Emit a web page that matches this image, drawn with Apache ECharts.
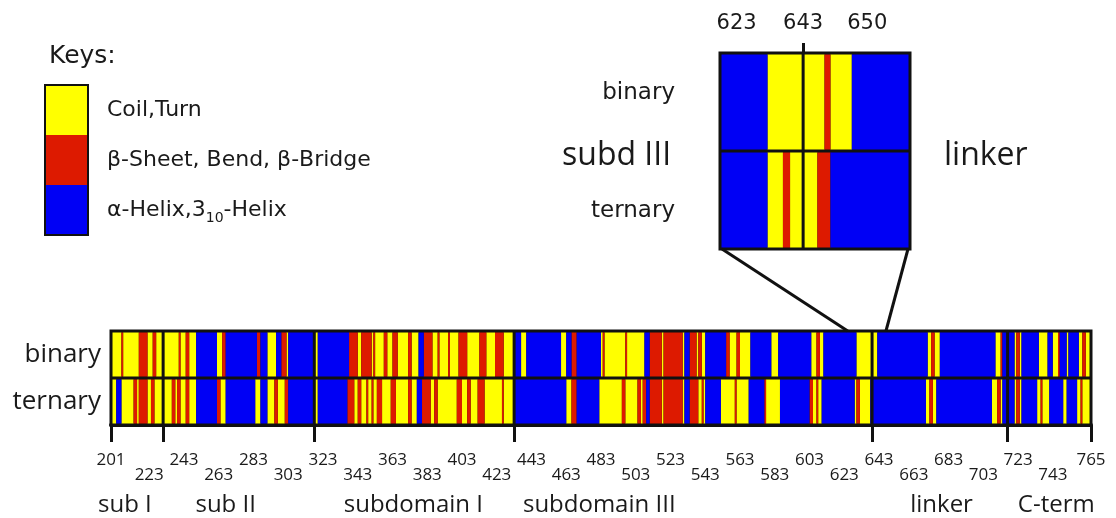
<!DOCTYPE html>
<html>
<head>
<meta charset="utf-8">
<script src="https://cdn.jsdelivr.net/npm/echarts@6/dist/echarts.min.js"></script>
<style>
html,body{margin:0;padding:0;background:#fff;}
#chart{width:1116px;height:518px;}
</style>
</head>
<body>
<div id="chart"></div>
<script>
// ---------- DATA ----------
const rows = ['binary', 'ternary'];
const stateKeys = ['C', 'S', 'H'];
const stateNames = ['Coil,Turn', 'β-Sheet, Bend, β-Bridge', 'α-Helix,3₁₀-Helix'];
const stateColors = ['#ffff00', '#dd1a00', '#0000f5'];

const residueStart = 201;
const residueEnd = 765;

// [first residue of segment, state]; each segment runs to the next start
const binarySegs = [[201,'C'],[207,'S'],[208,'C'],[217,'S'],[222,'C'],[225,'S'],[227,'C'],[240,'S'],[241,'C'],[244,'S'],[246,'C'],[250,'H'],[262,'C'],[265,'S'],[267,'H'],[285,'S'],[287,'H'],[291,'C'],[296,'H'],[299,'S'],[302,'C'],[303,'H'],[318,'C'],[320,'H'],[338,'S'],[343,'C'],[345,'S'],[351,'C'],[352,'S'],[353,'C'],[358,'S'],[360,'C'],[363,'S'],[366,'C'],[372,'S'],[374,'C'],[378,'H'],[381,'S'],[386,'C'],[389,'S'],[390,'C'],[395,'S'],[396,'C'],[401,'S'],[406,'C'],[413,'S'],[417,'C'],[422,'S'],[427,'C'],[433,'H'],[437,'C'],[440,'H'],[460,'C'],[463,'H'],[466,'S'],[469,'H'],[483,'C'],[484,'S'],[485,'C'],[497,'S'],[498,'C'],[508,'H'],[511,'S'],[518,'C'],[519,'S'],[530,'C'],[531,'H'],[534,'S'],[538,'C'],[539,'S'],[541,'C'],[543,'H'],[555,'S'],[557,'C'],[561,'S'],[563,'C'],[569,'H'],[581,'C'],[585,'H'],[604,'C'],[607,'S'],[609,'C'],[611,'H'],[630,'C'],[642,'H'],[671,'C'],[673,'S'],[675,'C'],[678,'H'],[710,'C'],[713,'S'],[714,'H'],[721,'C'],[722,'S'],[724,'C'],[725,'H'],[735,'C'],[740,'H'],[743,'C'],[746,'S'],[747,'H'],[751,'C'],[752,'H'],[758,'C'],[760,'S'],[762,'C']];

const ternarySegs = [[201,'C'],[204,'H'],[207,'C'],[214,'S'],[216,'C'],[217,'S'],[222,'C'],[224,'S'],[226,'C'],[236,'S'],[238,'C'],[239,'S'],[241,'C'],[244,'S'],[246,'C'],[250,'H'],[262,'S'],[264,'C'],[267,'H'],[284,'C'],[287,'H'],[291,'C'],[295,'S'],[297,'C'],[301,'S'],[303,'H'],[318,'C'],[320,'H'],[337,'S'],[341,'C'],[343,'S'],[345,'C'],[348,'S'],[349,'C'],[351,'S'],[352,'C'],[354,'S'],[357,'C'],[362,'S'],[365,'C'],[372,'S'],[374,'C'],[377,'H'],[380,'S'],[385,'C'],[387,'S'],[389,'C'],[400,'S'],[403,'C'],[406,'S'],[408,'C'],[412,'S'],[416,'C'],[426,'S'],[427,'C'],[433,'H'],[463,'C'],[466,'S'],[469,'H'],[482,'C'],[495,'S'],[497,'C'],[504,'S'],[506,'C'],[507,'S'],[509,'H'],[511,'S'],[518,'C'],[519,'S'],[530,'C'],[531,'H'],[534,'S'],[539,'C'],[541,'S'],[542,'C'],[543,'H'],[552,'C'],[560,'S'],[561,'C'],[568,'H'],[577,'S'],[578,'C'],[586,'H'],[603,'S'],[605,'C'],[607,'S'],[608,'C'],[610,'H'],[629,'C'],[630,'S'],[632,'C'],[638,'H'],[670,'C'],[672,'S'],[674,'C'],[676,'H'],[708,'C'],[711,'S'],[713,'C'],[714,'H'],[721,'C'],[722,'S'],[724,'C'],[725,'H'],[734,'C'],[736,'S'],[737,'C'],[741,'H'],[749,'C'],[751,'H'],[757,'C'],[759,'S'],[760,'C']];

// tick labels along the residue axis (two staggered rows)
const tickLabels = [201,223,243,263,283,303,323,343,363,383,403,423,443,463,483,503,523,543,563,583,603,623,643,663,683,703,723,743,765];
// domain boundaries (tick marks + separator lines)
const domainBounds = [201,231,318,433,639,717,765];
const domainNames = ['sub I','sub II','subdomain I','subdomain III','linker','C-term'];
const domainLabelAt = [209,267,375,482,679,745];

// inset (magnified window)
const insetMin = 636, insetMax = 652;
const insetBinary = [[636,'H'],[640,'C'],[644.8,'S'],[645.3,'C'],[647.1,'H']];
const insetTernary = [[636,'H'],[640,'C'],[641.3,'S'],[641.9,'C'],[644.2,'S'],[645.3,'H']];
const insetTickAt = [637.4, 643, 648.4];
const insetTickLabels = ['623', '643', '650'];
const insetCenter = 643;
const zoomWindow = [625, 647];

// ---------- LAYOUT ----------
const W = 1116, H = 518;
const mainGrid = {left: 111, right: 25, top: 331, bottom: 93};
const insetGrid = {left: 720, right: 206, top: 53, bottom: 269};
const txt = '#1a1a1a';

function toRanges(segs, row, endVal, key) {
  const out = [];
  for (let i = 0; i < segs.length; i++) {
    const s = segs[i][0];
    const e = i + 1 < segs.length ? segs[i + 1][0] : endVal;
    if (segs[i][1] === key) out.push([s, e, row]);
  }
  return out;
}

function renderStripe(params, api) {
  const s = api.value(0), e = api.value(1), row = api.value(2);
  const p0 = api.coord([s, row]);
  const p1 = api.coord([e, row]);
  const bh = api.size([0, 1])[1];
  let y = p0[1] - bh / 2, h = bh;
  if (row === 0) { h -= 1.5; } else { y += 1.5; h -= 1.5; }
  const cs = params.coordSys;
  const r = echarts.graphic.clipRectByRect(
    {x: p0[0], y: y, width: p1[0] - p0[0], height: h},
    {x: cs.x + 1.5, y: cs.y + 1.5, width: cs.width - 3, height: cs.height - 3}
  );
  return r && {type: 'rect', shape: r, style: {fill: api.visual('color')}};
}

function renderBoundary(params, api) {
  const x = api.coord([api.value(0), 0])[0];
  const cs = params.coordSys;
  return {type: 'line', shape: {x1: x, y1: cs.y, x2: x, y2: cs.y + cs.height},
    style: {stroke: '#111', lineWidth: 3}};
}

const series = [];
stateKeys.forEach((k, i) => {
  const data = toRanges(binarySegs, 0, residueEnd, k).concat(toRanges(ternarySegs, 1, residueEnd, k));
  series.push({
    type: 'custom', name: stateNames[i], xAxisIndex: 0, yAxisIndex: 0,
    renderItem: renderStripe, data: data, encode: {x: [0, 1], y: 2},
    itemStyle: {color: stateColors[i]}, silent: true
  });
});
stateKeys.forEach((k, i) => {
  const data = toRanges(insetBinary, 0, insetMax, k).concat(toRanges(insetTernary, 1, insetMax, k));
  series.push({
    type: 'custom', name: stateNames[i], xAxisIndex: 2, yAxisIndex: 1,
    renderItem: renderStripe, data: data, encode: {x: [0, 1], y: 2},
    itemStyle: {color: stateColors[i]}, silent: true
  });
});
series.push({
  type: 'custom', name: 'domain boundaries', xAxisIndex: 0, yAxisIndex: 0, z: 5,
  renderItem: renderBoundary, data: domainBounds.slice(1, -1).map(v => [v, 0]),
  encode: {x: 0, y: 1}, silent: true
});
series.push({
  type: 'custom', name: 'inset centre', xAxisIndex: 2, yAxisIndex: 1, z: 5,
  renderItem: renderBoundary, data: [[insetCenter, 0]],
  encode: {x: 0, y: 1}, silent: true
});

const chart = echarts.init(document.getElementById('chart'), null, {renderer: 'canvas'});
chart.setOption({
  animation: false,
  backgroundColor: '#fff',
  title: [
    {text: 'Keys:', left: 44, top: 39, textStyle: {fontSize: 25, fontWeight: 'normal', color: txt, fontFamily: 'DejaVu Sans'}},
    {text: 'subd III', left: 557, top: 135, textStyle: {fontSize: 32, fontWeight: 'normal', color: txt, fontFamily: 'Open Sans'}},
    {text: 'linker', left: 939, top: 135, textStyle: {fontSize: 32, fontWeight: 'normal', color: txt, fontFamily: 'Open Sans'}}
  ],
  legend: {
    orient: 'vertical', left: 45, top: 85, padding: 0, itemWidth: 43, itemHeight: 50, itemGap: 0,
    icon: 'rect', selectedMode: false, data: stateNames,
    formatter: n => n === stateNames[2] ? 'α-Helix,3{sub|10}-Helix' : n,
    textStyle: {fontSize: 22, color: txt, fontFamily: 'DejaVu Sans', padding: [0, 0, 0, 14],
      rich: {sub: {fontSize: 14, fontFamily: 'DejaVu Sans', color: txt, padding: [16, 0, 0, 0]}}}
  },
  grid: [
    Object.assign({show: true, borderColor: '#111', borderWidth: 3, backgroundColor: '#111'}, mainGrid),
    Object.assign({show: true, borderColor: '#111', borderWidth: 3, backgroundColor: '#111'}, insetGrid)
  ],
  xAxis: [
    {gridIndex: 0, type: 'value', min: residueStart, max: residueEnd, position: 'bottom',
      axisLine: {show: true, lineStyle: {color: '#111', width: 4}},
      axisTick: {show: true, customValues: domainBounds, length: 17, lineStyle: {color: '#111', width: 3}},
      axisLabel: {customValues: tickLabels, margin: 28, fontSize: 17, lineHeight: 15, color: txt, fontFamily: 'Open Sans',
        formatter: (v) => { const i = tickLabels.indexOf(Math.round(v)); return (i % 2 === 1 ? '\n' : '') + Math.round(v); }},
      splitLine: {show: false}},
    {gridIndex: 0, type: 'value', min: residueStart, max: residueEnd, position: 'bottom',
      axisLine: {show: false}, axisTick: {show: false}, splitLine: {show: false},
      axisLabel: {customValues: domainLabelAt, margin: 68, fontSize: 24, color: txt, fontFamily: 'Open Sans',
        formatter: (v) => domainNames[domainLabelAt.indexOf(Math.round(v))] || ''}},
    {gridIndex: 1, type: 'value', min: insetMin, max: insetMax, position: 'top',
      axisLine: {show: false}, splitLine: {show: false},
      axisTick: {show: true, customValues: [insetCenter], length: 10, lineStyle: {color: '#111', width: 3}},
      axisLabel: {customValues: insetTickAt, margin: 19, fontSize: 21, color: txt, fontFamily: 'DejaVu Sans',
        formatter: (v) => { let best = 0; insetTickAt.forEach((t, i) => { if (Math.abs(t - v) < Math.abs(insetTickAt[best] - v)) best = i; }); return insetTickLabels[best]; }}}
  ],
  yAxis: [
    {gridIndex: 0, type: 'category', data: rows, inverse: true,
      axisLine: {show: false}, axisTick: {show: false}, splitLine: {show: false},
      axisLabel: {fontSize: 26, color: txt, margin: 10, fontFamily: 'Open Sans'}},
    {gridIndex: 1, type: 'category', data: rows, inverse: true,
      axisLine: {show: false}, axisTick: {show: false}, splitLine: {show: false},
      axisLabel: {fontSize: 23, color: txt, margin: 45, fontFamily: 'DejaVu Sans',
        formatter: v => v === 'binary' ? '{a|binary}' : '{b|ternary}',
        rich: {a: {fontSize: 23, color: txt, fontFamily: 'DejaVu Sans', padding: [0, 0, 18, 0]},
               b: {fontSize: 23, color: txt, fontFamily: 'DejaVu Sans', padding: [22, 0, 0, 0]}}}}
  ],
  series: series
});

// connector lines from the inset to the zoom window on the main strip
const ix0 = chart.convertToPixel({xAxisIndex: 2}, insetMin);
const ix1 = chart.convertToPixel({xAxisIndex: 2}, insetMax);
const mx0 = chart.convertToPixel({xAxisIndex: 0}, zoomWindow[0]);
const mx1 = chart.convertToPixel({xAxisIndex: 0}, zoomWindow[1]);
const insetBottomY = H - insetGrid.bottom;
const mainTopY = mainGrid.top;
chart.setOption({
  graphic: [
    {type: 'line', shape: {x1: ix0 + 2, y1: insetBottomY, x2: mx0, y2: mainTopY}, style: {stroke: '#111', lineWidth: 3}, z: 10},
    {type: 'line', shape: {x1: ix1 - 2, y1: insetBottomY, x2: mx1, y2: mainTopY}, style: {stroke: '#111', lineWidth: 3}, z: 10},
    {type: 'rect', shape: {x: 45, y: 85, width: 43, height: 150}, style: {fill: 'none', stroke: '#111', lineWidth: 2}, z: 10}
  ]
});
</script>
</body>
</html>
